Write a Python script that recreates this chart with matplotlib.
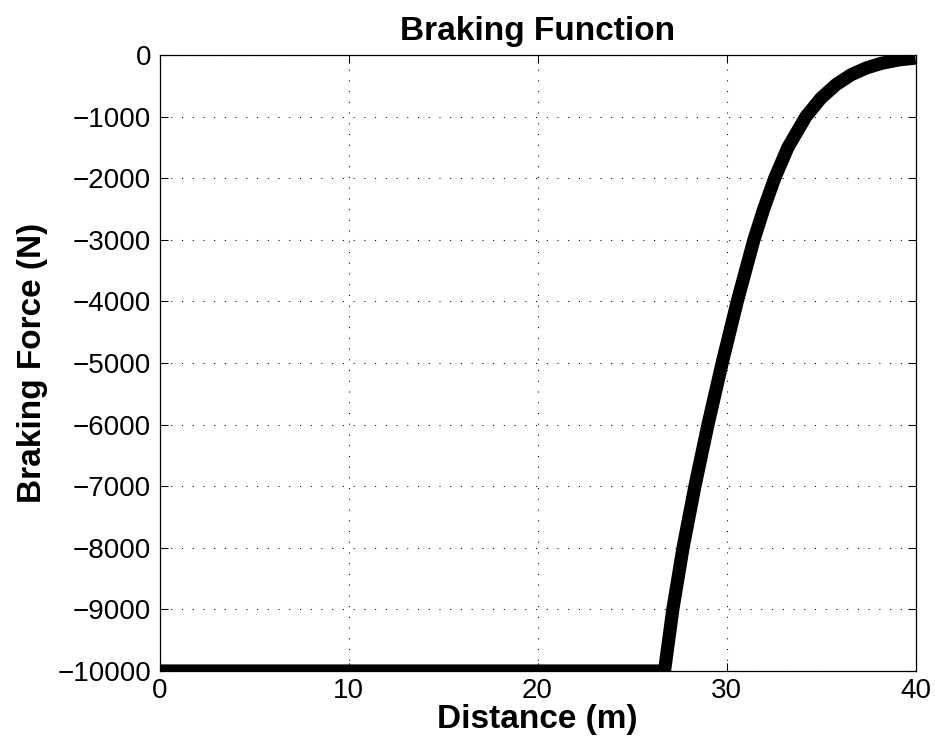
import matplotlib
matplotlib.use("Agg")
import matplotlib.pyplot as plt

# braking force vs distance
distance = [0.0, 26.72, 27.16, 27.70, 28.33, 29.02, 29.77, 30.57, 31.45,
            31.97, 32.55, 33.25, 34.20, 35.00, 35.80, 36.60, 37.40, 38.20,
            39.10, 40.0]
force = [-10000, -10000, -9000, -8000, -7000, -6000, -5000, -4000, -3000,
         -2500, -2000, -1500, -1000, -700, -480, -320, -210, -135, -80, -50]

x_ticks = [0, 10, 20, 30, 40]
y_ticks = list(range(-10000, 1, 1000))

plt.rcParams['font.family'] = ['Liberation Sans', 'DejaVu Sans']

fig = plt.figure(figsize=(9.35, 7.5), dpi=100)
ax = fig.add_axes([159.5 / 935, 79 / 750, 756 / 935, 616 / 750])

ax.plot(distance, force, color='black', linewidth=9.5, solid_capstyle='butt',
        solid_joinstyle='round')

ax.set_xlim(0, 40)
ax.set_ylim(-10000, 0)
ax.set_xticks(x_ticks)
ax.set_yticks(y_ticks)
ax.set_yticklabels([f"\u2212{abs(v)}" if v < 0 else str(v) for v in y_ticks])

ax.grid(True, color='black', linewidth=0.75, linestyle=(0, (1, 9.3)))
ax.tick_params(direction='in', length=5.5, width=0.75, top=True, right=True,
               labelsize=20)
ax.tick_params(axis='y', pad=6)
ax.tick_params(axis='x', pad=5)
for s in ax.spines.values():
    s.set_linewidth(0.9)

ax.set_title("Braking Function", fontsize=24, fontweight='bold', pad=11)
ax.set_xlabel("Distance (m)", fontsize=24, fontweight='bold', labelpad=0)
ax.set_ylabel("Braking Force (N)", fontsize=24, fontweight='bold', labelpad=7)

fig.savefig("out.png", dpi=100)
